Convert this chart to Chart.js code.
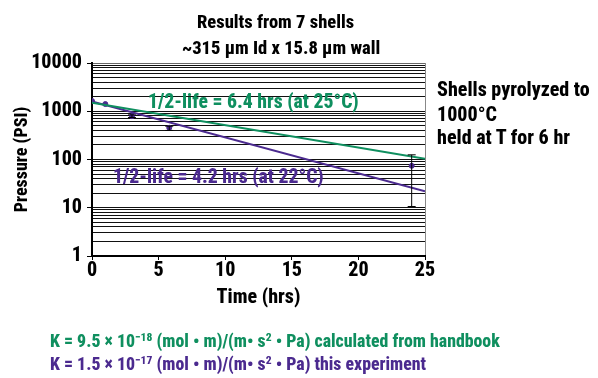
<!DOCTYPE html>
<html>
<head>
<meta charset="utf-8">
<script src="https://cdn.jsdelivr.net/npm/chart.js@4/dist/chart.umd.min.js"></script>
<style>
  html, body { margin:0; padding:0; background:#fff; }
  #wrap { position:relative; width:598px; height:378px; overflow:hidden; font-family:"Roboto Condensed","Liberation Sans Narrow","DejaVu Sans Condensed","Liberation Sans",Arial,sans-serif; font-weight:800; }
  #c { position:absolute; left:0; top:0; }
  .t { position:absolute; white-space:nowrap; line-height:1; }
  sup { font-size:65%; vertical-align:0; position:relative; top:-0.55em; }
</style>
</head>
<body>
<div id="wrap">
  <canvas id="c" width="598" height="378"></canvas>
  <div class="t" style="left:197px; top:13px; font-size:18.5px; color:#000;">Results from 7 shells</div>
  <div class="t" style="left:182px; top:39px; font-size:18.5px; color:#000;">~315 μm Id x 15.8 μm wall</div>
  <div class="t" style="left:148px; top:92px; font-size:19.7px; color:#0f8f5f;">1/2-life = 6.4 hrs (at 25°C)</div>
  <div class="t" style="left:113px; top:167px; font-size:19.7px; color:#4b2a8f;">1/2-life = 4.2 hrs (at 22°C)</div>
  <div class="t" style="left:437px; top:79px; font-size:20px; color:#000;">Shells pyrolyzed to</div>
  <div class="t" style="left:437px; top:104px; font-size:20px; color:#000;">1000°C</div>
  <div class="t" style="left:437px; top:127px; font-size:20px; color:#000;">held at T for 6 hr</div>
  <div class="t" style="left:50px; top:332px; font-size:17.8px; color:#0f8f5f;">K = 9.5 × 10<sup>−18</sup> (mol • m)/(m• s<sup>2</sup> • Pa) calculated from handbook</div>
  <div class="t" style="left:50px; top:355px; font-size:17.8px; color:#4b2a8f;">K = 1.5 × 10<sup>−17</sup> (mol • m)/(m• s<sup>2</sup> • Pa) this experiment</div>
</div>
<script>
// ---- data ----
const pointTimes    = [0, 1, 3, 5.8, 24];
const pointPressure = [1630, 1410, 790, 455, 74];
const errLow        = [null, null, 740, 400, 10.6];
const errHigh       = [null, null, 840, 490, 125];

const fitGreenTimes = [0, 25];
const fitGreenP     = [1500, 103];
const fitPurpleTimes = [0, 25];
const fitPurpleP     = [1600, 22];

const xTicks = [0, 5, 10, 15, 20, 25];
const yMajorTicks = [1, 10, 100, 1000, 10000];
const yTickLabels = ['1', '10', '100', '1000', '10000'];
const yMinorMultipliers = [2, 3, 4, 5, 6, 7, 8, 9];

const GREEN = '#0f8f5f';
const PURPLE = '#4b2a8f';
const FONT = '"Roboto Condensed","Liberation Sans Narrow","DejaVu Sans Condensed","Liberation Sans",Arial,sans-serif';

const yAllTicks = [];
yMajorTicks.forEach((m, i) => {
  yAllTicks.push(m);
  if (i < yMajorTicks.length - 1) yMinorMultipliers.forEach(k => yAllTicks.push(m * k));
});

const toXY = (xs, ys) => xs.map((x, i) => ({x: x, y: ys[i]}));

const errorBarPlugin = {
  id: 'errorBars',
  afterDatasetsDraw(chart) {
    const {ctx, scales: {x, y}} = chart;
    ctx.save();
    ctx.strokeStyle = '#000';
    ctx.lineWidth = 1;
    pointTimes.forEach((t, i) => {
      if (errLow[i] == null) return;
      const px = x.getPixelForValue(t);
      const pl = y.getPixelForValue(errLow[i]);
      const ph = y.getPixelForValue(errHigh[i]);
      ctx.beginPath();
      ctx.moveTo(px, pl); ctx.lineTo(px, ph);
      ctx.moveTo(px - 4, pl); ctx.lineTo(px + 4, pl);
      ctx.moveTo(px - 4, ph); ctx.lineTo(px + 4, ph);
      ctx.stroke();
    });
    ctx.restore();
  }
};

new Chart(document.getElementById('c'), {
  data: {
    datasets: [
      { type: 'line', data: toXY(fitGreenTimes, fitGreenP), borderColor: GREEN, borderWidth: 2, pointRadius: 0, tension: 0 },
      { type: 'line', data: toXY(fitPurpleTimes, fitPurpleP), borderColor: PURPLE, borderWidth: 2, pointRadius: 0, tension: 0 },
      { type: 'scatter', data: toXY(pointTimes, pointPressure), backgroundColor: PURPLE, borderColor: PURPLE, pointRadius: 2.5, showLine: false }
    ]
  },
  plugins: [errorBarPlugin],
  options: {
    responsive: false,
    animation: false,
    devicePixelRatio: 1,
    layout: { padding: { left: 0, top: 63, right: 173, bottom: 60 } },
    plugins: { legend: { display: false }, tooltip: { enabled: false }, title: { display: false } },
    scales: {
      x: {
        type: 'linear', min: 0, max: 25,
        afterBuildTicks: s => { s.ticks = xTicks.map(v => ({value: v})); },
        afterFit: s => { s.height = 62; },
        ticks: { color: '#000', font: { family: FONT, size: 20, weight: '800', lineHeight: 1 }, padding: 1, maxRotation: 0 },
        grid: {
          drawOnChartArea: true,
          color: c => (c.tick && c.tick.value === 25) ? '#888' : 'rgba(0,0,0,0)',
          tickColor: '#000', tickLength: 4, lineWidth: 1
        },
        border: { color: '#000', width: 2 },
        title: { display: true, text: 'Time (hrs)', color: '#000', font: { family: FONT, size: 20, weight: '800', lineHeight: 1.2 }, padding: { top: 0, bottom: 8 } }
      },
      y: {
        type: 'logarithmic', min: 1, max: 10000,
        afterBuildTicks: s => { s.ticks = yAllTicks.map(v => ({value: v, major: yMajorTicks.includes(v)})); },
        afterFit: s => { s.width = 92; },
        ticks: {
          color: '#000', font: { family: FONT, size: 20, weight: '800', lineHeight: 1 }, padding: 5, autoSkip: false,
          callback: v => { const i = yMajorTicks.indexOf(v); return i >= 0 ? yTickLabels[i] : ''; }
        },
        grid: {
          color: c => (c.tick && c.tick.value === 10000) ? '#666' : '#111',
          tickColor: c => (c.tick && yMajorTicks.includes(c.tick.value)) ? '#000' : 'rgba(0,0,0,0)',
          tickLength: 5, lineWidth: 1
        },
        border: { color: '#000', width: 2 },
        title: { display: true, text: 'Pressure (PSI)', color: '#000', font: { family: FONT, size: 18, weight: '800', lineHeight: 1.2 }, padding: { top: 11.5, bottom: 0 } }
      }
    }
  }
});
</script>
</body>
</html>
